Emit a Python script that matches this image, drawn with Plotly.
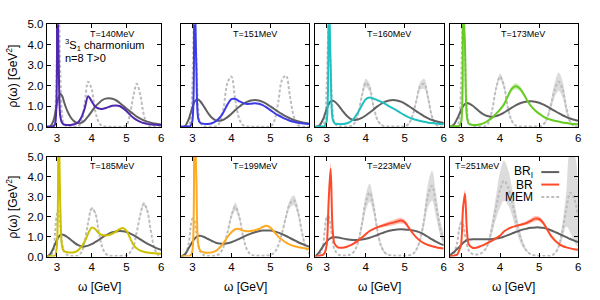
import plotly.graph_objects as go

# ---------------- data ----------------
W = [2.7, 2.8, 2.9, 2.95, 3.0, 3.05, 3.1, 3.15, 3.2, 3.3, 3.4, 3.5, 3.6, 3.7, 3.8, 3.9,
     4.0, 4.1, 4.2, 4.3, 4.4, 4.5, 4.6, 4.7, 4.8, 4.9, 5.0, 5.1, 5.2, 5.3, 5.4, 5.5,
     5.6, 5.7, 5.8, 5.9, 6.0]

T_LABELS = ["T=140MeV", "T=151MeV", "T=160MeV", "T=173MeV",
            "T=185MeV", "T=199MeV", "T=223MeV", "T=251MeV"]
BR_COLORS = ["#5028b0", "#3c3ce6", "#20c0c0", "#66cc22",
             "#ccc000", "#ffaa22", "#ff4a2a", "#ff4a2a"]
BR_BANDS = ["rgba(80,40,176,0.35)", "rgba(60,60,230,0.35)", "rgba(32,192,192,0.35)",
            "rgba(102,204,34,0.35)", "rgba(204,192,0,0.35)", "rgba(255,170,34,0.35)",
            "rgba(255,74,42,0.35)", "rgba(255,74,42,0.35)"]
X_TICKS = [3, 4, 5, 6]
Y_TICKS = [0, 1, 2, 3, 4, 5]
Y_TICK_TEXT = ["0.0", "1.0", "2.0", "3.0", "4.0", "5.0"]

# T = 140 MeV
br_140 = [0.02, 0.02, 0.03, 0.15, 8.0, 3.5, 0.5, 0.2, 0.12, 0.1, 0.1, 0.13, 0.2, 0.45, 0.9, 1.5,
          1.25, 1.0, 0.9, 0.88, 0.92, 0.98, 1.03, 1.05, 1.02, 0.92, 0.78, 0.6, 0.45, 0.33, 0.25, 0.19,
          0.15, 0.13, 0.11, 0.1, 0.09]
bri_140 = [0.0, 0.02, 0.3, 0.65, 1.1, 1.45, 1.6, 1.52, 1.25, 0.78, 0.46, 0.27, 0.19, 0.2, 0.32, 0.52,
           0.75, 0.98, 1.15, 1.3, 1.38, 1.4, 1.37, 1.3, 1.18, 1.04, 0.9, 0.76, 0.63, 0.5, 0.4, 0.32,
           0.26, 0.21, 0.17, 0.14, 0.12]
mem_140 = [0.0, 0.01, 0.1, 0.6, 3.5, 6.0, 2.5, 0.6, 0.15, 0.02, 0.01, 0.01, 0.02, 0.2, 1.15, 2.2,
           1.85, 0.8, 0.25, 0.05, 0.02, 0.01, 0.01, 0.01, 0.01, 0.02, 0.08, 0.6, 1.5, 2.1, 1.55, 0.6,
           0.12, 0.02, 0.01, 0.01, 0.0]

# T = 151 MeV
br_151 = [0.02, 0.02, 0.02, 0.05, 0.3, 7.0, 3.0, 0.4, 0.2, 0.15, 0.14, 0.18, 0.28, 0.45, 0.73, 1.1,
          1.35, 1.36, 1.25, 1.16, 1.12, 1.13, 1.15, 1.13, 1.06, 0.95, 0.82, 0.68, 0.57, 0.47, 0.38, 0.3,
          0.25, 0.21, 0.18, 0.16, 0.15]
bri_151 = [0.0, 0.02, 0.35, 0.65, 0.95, 1.2, 1.33, 1.33, 1.25, 0.98, 0.68, 0.45, 0.32, 0.3, 0.36, 0.48,
           0.64, 0.82, 0.98, 1.12, 1.22, 1.29, 1.31, 1.29, 1.22, 1.12, 1.0, 0.87, 0.74, 0.62, 0.51, 0.42,
           0.34, 0.28, 0.23, 0.19, 0.16]
mem_151 = [0.0, 0.01, 0.05, 0.3, 2.0, 6.0, 3.5, 0.8, 0.2, 0.03, 0.01, 0.01, 0.03, 0.2, 0.95, 2.15,
           2.45, 1.3, 0.4, 0.08, 0.02, 0.01, 0.01, 0.01, 0.01, 0.01, 0.02, 0.3, 1.2, 2.3, 2.5, 1.5,
           0.5, 0.1, 0.02, 0.01, 0.0]

# T = 160 MeV
br_160 = [0.02, 0.02, 0.02, 0.05, 0.3, 7.0, 3.0, 0.4, 0.18, 0.14, 0.14, 0.17, 0.25, 0.42, 0.7, 1.05,
          1.35, 1.44, 1.38, 1.3, 1.22, 1.12, 1.0, 0.9, 0.8, 0.68, 0.57, 0.47, 0.4, 0.34, 0.29, 0.25,
          0.21, 0.19, 0.17, 0.15, 0.14]
bri_160 = [0.0, 0.05, 0.35, 0.6, 0.88, 1.1, 1.25, 1.28, 1.24, 1.05, 0.8, 0.57, 0.41, 0.34, 0.36, 0.44,
           0.56, 0.7, 0.85, 1.0, 1.13, 1.23, 1.29, 1.31, 1.29, 1.23, 1.14, 1.02, 0.89, 0.76, 0.64, 0.52,
           0.42, 0.34, 0.28, 0.23, 0.19]
mem_160 = [0.0, 0.01, 0.05, 0.3, 2.0, 5.0, 3.0, 0.8, 0.2, 0.03, 0.01, 0.01, 0.03, 0.15, 0.6, 1.5,
           2.15, 1.9, 1.0, 0.35, 0.1, 0.03, 0.02, 0.02, 0.02, 0.02, 0.02, 0.15, 0.55, 1.3, 2.0, 2.1,
           1.4, 0.5, 0.12, 0.03, 0.01]
mem_err_160 = [0, 0, 0, 0, 0, 0, 0, 0, 0, 0, 0, 0, 0, 0.02, 0.05, 0.12,
               0.2, 0.2, 0.12, 0.05, 0.02, 0, 0, 0, 0, 0, 0, 0.02, 0.05, 0.12, 0.2, 0.25,
               0.2, 0.1, 0.03, 0, 0]

# T = 173 MeV
br_173 = [0.02, 0.02, 0.03, 0.05, 0.2, 6.0, 4.0, 0.5, 0.15, 0.1, 0.1, 0.13, 0.2, 0.32, 0.45, 0.65,
          0.85, 1.1, 1.5, 1.85, 1.98, 1.88, 1.62, 1.28, 1.0, 0.8, 0.65, 0.52, 0.42, 0.35, 0.3, 0.26,
          0.22, 0.19, 0.16, 0.14, 0.13]
br_err_173 = [0, 0, 0, 0, 0, 0, 0, 0, 0, 0, 0, 0, 0, 0, 0, 0,
              0.03, 0.05, 0.1, 0.13, 0.15, 0.13, 0.1, 0.06, 0.03, 0, 0, 0, 0, 0, 0, 0,
              0, 0, 0, 0, 0]
bri_173 = [0.0, 0.08, 0.4, 0.6, 0.82, 1.0, 1.12, 1.16, 1.14, 1.03, 0.87, 0.71, 0.59, 0.52, 0.5, 0.53,
           0.6, 0.7, 0.82, 0.94, 1.05, 1.14, 1.2, 1.24, 1.25, 1.23, 1.18, 1.1, 1.0, 0.89, 0.78, 0.67,
           0.57, 0.48, 0.41, 0.35, 0.3]
mem_173 = [0.0, 0.01, 0.05, 0.3, 2.0, 5.5, 3.5, 0.9, 0.25, 0.04, 0.02, 0.02, 0.03, 0.2, 0.85, 1.9,
           2.45, 2.0, 0.95, 0.3, 0.07, 0.02, 0.02, 0.02, 0.02, 0.02, 0.02, 0.1, 0.4, 1.05, 1.8, 2.2,
           1.85, 0.9, 0.25, 0.05, 0.01]
mem_err_173 = [0, 0, 0, 0, 0, 0, 0, 0, 0, 0, 0, 0, 0, 0, 0.05, 0.1,
               0.15, 0.15, 0.1, 0.05, 0, 0, 0, 0, 0, 0, 0, 0, 0.08, 0.2, 0.35, 0.45,
               0.4, 0.25, 0.1, 0.03, 0]

# T = 185 MeV
br_185 = [0.02, 0.02, 0.02, 0.05, 0.5, 7.0, 2.5, 0.5, 0.28, 0.22, 0.2, 0.22, 0.3, 0.48, 0.75, 1.15,
          1.45, 1.38, 1.18, 1.08, 1.06, 1.08, 1.15, 1.25, 1.37, 1.43, 1.3, 0.95, 0.6, 0.4, 0.3, 0.24,
          0.2, 0.18, 0.16, 0.15, 0.14]
bri_185 = [0.0, 0.1, 0.42, 0.62, 0.82, 0.98, 1.07, 1.1, 1.08, 0.98, 0.84, 0.7, 0.58, 0.52, 0.51, 0.55,
           0.62, 0.72, 0.83, 0.95, 1.06, 1.15, 1.22, 1.26, 1.28, 1.27, 1.23, 1.16, 1.07, 0.97, 0.86, 0.75,
           0.65, 0.56, 0.47, 0.4, 0.34]
mem_185 = [0.0, 0.02, 0.3, 1.2, 2.1, 2.3, 1.5, 0.7, 0.3, 0.08, 0.03, 0.03, 0.05, 0.2, 0.75, 1.7,
           2.4, 2.2, 1.3, 0.5, 0.15, 0.05, 0.03, 0.03, 0.03, 0.04, 0.06, 0.2, 0.5, 1.25, 2.1, 2.65,
           2.3, 1.3, 0.45, 0.1, 0.02]
mem_err_185 = [0, 0, 0, 0, 0, 0, 0, 0, 0, 0, 0, 0, 0, 0, 0, 0.05,
               0.08, 0.08, 0.05, 0, 0, 0, 0, 0, 0, 0, 0, 0, 0, 0, 0.08, 0.1,
               0.1, 0.05, 0, 0, 0]

# T = 199 MeV
br_199 = [0.02, 0.02, 0.02, 0.05, 0.3, 7.0, 4.0, 0.6, 0.3, 0.2, 0.19, 0.21, 0.28, 0.45, 0.68, 0.98,
          1.22, 1.37, 1.38, 1.3, 1.27, 1.28, 1.32, 1.38, 1.48, 1.54, 1.45, 1.23, 1.0, 0.84, 0.7, 0.6,
          0.53, 0.48, 0.44, 0.4, 0.37]
bri_199 = [0.0, 0.1, 0.4, 0.57, 0.74, 0.88, 0.98, 1.03, 1.04, 0.98, 0.88, 0.78, 0.69, 0.65, 0.64, 0.67,
           0.72, 0.8, 0.89, 0.98, 1.07, 1.15, 1.22, 1.27, 1.3, 1.31, 1.3, 1.26, 1.2, 1.12, 1.03, 0.93,
           0.83, 0.73, 0.64, 0.56, 0.49]
mem_199 = [0.0, 0.05, 0.6, 1.4, 1.9, 1.8, 1.2, 0.6, 0.25, 0.06, 0.03, 0.03, 0.05, 0.15, 0.5, 1.2,
           2.05, 2.5, 2.0, 1.0, 0.35, 0.1, 0.05, 0.04, 0.04, 0.05, 0.08, 0.2, 0.55, 1.2, 2.0, 2.65,
           2.82, 2.3, 1.3, 0.5, 0.15]
mem_err_199 = [0, 0, 0, 0, 0, 0, 0, 0, 0, 0, 0, 0, 0, 0, 0, 0.08,
               0.15, 0.2, 0.15, 0.08, 0, 0, 0, 0, 0, 0, 0, 0, 0, 0.08, 0.15, 0.2,
               0.25, 0.2, 0.12, 0.05, 0]

# T = 223 MeV
br_223 = [0.02, 0.03, 0.08, 0.2, 0.6, 2.8, 4.4, 1.4, 0.65, 0.45, 0.44, 0.48, 0.56, 0.66, 0.8, 0.95,
          1.12, 1.28, 1.38, 1.47, 1.53, 1.59, 1.65, 1.7, 1.76, 1.8, 1.72, 1.45, 1.18, 0.95, 0.78, 0.66,
          0.58, 0.52, 0.47, 0.43, 0.4]
br_err_223 = [0, 0, 0, 0, 0, 0.2, 0.3, 0.15, 0, 0, 0, 0, 0, 0, 0, 0,
              0, 0, 0, 0.05, 0.08, 0.1, 0.12, 0.13, 0.14, 0.14, 0.12, 0.08, 0.04, 0, 0, 0,
              0, 0, 0, 0, 0]
bri_223 = [0.0, 0.2, 0.5, 0.63, 0.75, 0.85, 0.92, 0.96, 0.97, 0.95, 0.91, 0.87, 0.84, 0.83, 0.83, 0.85,
           0.89, 0.94, 1.01, 1.08, 1.16, 1.23, 1.29, 1.33, 1.36, 1.37, 1.36, 1.34, 1.31, 1.27, 1.2, 1.1,
           0.98, 0.86, 0.75, 0.65, 0.57]
mem_223 = [0.0, 0.05, 0.5, 1.3, 1.95, 2.0, 1.5, 0.8, 0.35, 0.1, 0.06, 0.06, 0.1, 0.25, 0.7, 1.6,
           2.7, 3.2, 2.5, 1.3, 0.5, 0.18, 0.08, 0.05, 0.04, 0.04, 0.04, 0.06, 0.12, 0.35, 0.9, 1.9,
           3.1, 3.55, 2.6, 1.5, 0.8]
mem_err_223 = [0, 0, 0, 0.1, 0.12, 0.12, 0.1, 0, 0, 0, 0, 0, 0, 0, 0.1, 0.25,
               0.4, 0.45, 0.35, 0.2, 0.1, 0.05, 0, 0, 0, 0, 0, 0, 0, 0.05, 0.15, 0.35,
               0.6, 0.75, 0.6, 0.4, 0.25]

# T = 251 MeV
br_251 = [0.02, 0.03, 0.1, 0.3, 0.6, 2.4, 3.15, 1.3, 0.6, 0.43, 0.45, 0.52, 0.6, 0.7, 0.8, 0.92,
          1.05, 1.25, 1.38, 1.47, 1.53, 1.58, 1.63, 1.7, 1.8, 1.9, 1.88, 1.7, 1.38, 1.05, 0.82, 0.65,
          0.53, 0.46, 0.41, 0.37, 0.34]
br_err_251 = [0, 0, 0, 0, 0, 0.15, 0.2, 0.1, 0, 0, 0, 0, 0, 0, 0, 0,
              0, 0, 0, 0, 0, 0.05, 0.08, 0.1, 0.12, 0.13, 0.12, 0.1, 0.06, 0.03, 0, 0,
              0, 0, 0, 0, 0]
bri_251 = [0.03, 0.2, 0.38, 0.47, 0.58, 0.68, 0.76, 0.82, 0.85, 0.87, 0.87, 0.87, 0.87, 0.87, 0.88, 0.9,
           0.94, 1.0, 1.07, 1.15, 1.23, 1.3, 1.36, 1.41, 1.44, 1.46, 1.46, 1.44, 1.39, 1.32, 1.24, 1.15,
           1.06, 0.97, 0.88, 0.8, 0.72]
mem_251 = [0.0, 0.1, 0.7, 1.35, 1.7, 1.6, 1.1, 0.6, 0.3, 0.12, 0.1, 0.15, 0.3, 0.7, 1.5, 2.5,
           3.35, 3.8, 3.5, 2.8, 1.9, 1.1, 0.55, 0.25, 0.1, 0.05, 0.03, 0.03, 0.03, 0.05, 0.15, 0.5,
           1.3, 2.4, 3.2, 2.9, 2.0]
mem_err_251 = [0, 0, 0, 0.1, 0.1, 0.1, 0.1, 0, 0, 0, 0, 0, 0, 0.15, 0.35, 0.6,
               0.9, 1.0, 0.9, 0.7, 0.5, 0.3, 0.15, 0.05, 0, 0, 0, 0, 0, 0, 0, 0.1,
               0.4, 0.9, 2.0, 2.2, 1.5]

ZEROS = [0] * len(W)
PANELS = [
    (br_140, ZEROS, bri_140, mem_140, ZEROS),
    (br_151, ZEROS, bri_151, mem_151, ZEROS),
    (br_160, ZEROS, bri_160, mem_160, mem_err_160),
    (br_173, br_err_173, bri_173, mem_173, mem_err_173),
    (br_185, ZEROS, bri_185, mem_185, mem_err_185),
    (br_199, ZEROS, bri_199, mem_199, mem_err_199),
    (br_223, br_err_223, bri_223, mem_223, mem_err_223),
    (br_251, br_err_251, bri_251, mem_251, mem_err_251),
]

# ---------------- layout geometry (pixels of the 600x300 canvas) ----------------
WIDTH, HEIGHT = 600, 300
COLS_PX = [(47, 162), (182, 311), (317, 446), (452, 581)]
ROWS_PX = [(19, 126), (157, 261)]
FONT = "Liberation Sans, Arial, sans-serif"
BRI_COLOR = "#606060"
MEM_COLOR = "#bdbdbd"
MEM_BAND = "#dcdcdc"


def px_x(p):
    return p / WIDTH


def px_y(p):
    return 1 - p / HEIGHT


fig = go.Figure()
layout_axes = {}
annotations = []
shapes = []

for i, (br, br_err, bri, mem, mem_err) in enumerate(PANELS):
    r, c = divmod(i, 4)
    sfx = "" if i == 0 else str(i + 1)
    xa, ya = "x" + sfx, "y" + sfx

    if any(e > 0 for e in mem_err):
        up = [m + e for m, e in zip(mem, mem_err)]
        lo = [max(m - e, 0) for m, e in zip(mem, mem_err)]
        fig.add_trace(go.Scatter(x=W + W[::-1], y=up + lo[::-1], fill="toself",
                                 fillcolor=MEM_BAND, line=dict(width=0, shape="spline"),
                                 mode="lines", hoverinfo="skip", showlegend=False,
                                 xaxis=xa, yaxis=ya))
    fig.add_trace(go.Scatter(x=W, y=mem, mode="lines",
                             line=dict(color=MEM_COLOR, width=2, dash="3px,2px",
                                       shape="spline", smoothing=1.0),
                             showlegend=False, xaxis=xa, yaxis=ya))
    if any(e > 0 for e in br_err):
        up = [m + e for m, e in zip(br, br_err)]
        lo = [max(m - e, 0) for m, e in zip(br, br_err)]
        fig.add_trace(go.Scatter(x=W + W[::-1], y=up + lo[::-1], fill="toself",
                                 fillcolor=BR_BANDS[i], line=dict(width=0, shape="spline"),
                                 mode="lines", hoverinfo="skip", showlegend=False,
                                 xaxis=xa, yaxis=ya))
    fig.add_trace(go.Scatter(x=W, y=bri, mode="lines",
                             line=dict(color=BRI_COLOR, width=2, shape="spline", smoothing=1.0),
                             showlegend=False, xaxis=xa, yaxis=ya))
    fig.add_trace(go.Scatter(x=W, y=br, mode="lines",
                             line=dict(color=BR_COLORS[i], width=2, shape="spline", smoothing=0.9),
                             showlegend=False, xaxis=xa, yaxis=ya))

    x0, x1 = COLS_PX[c]
    y0, y1 = ROWS_PX[r]
    layout_axes["xaxis" + sfx] = dict(
        domain=[px_x(x0), px_x(x1)], anchor=ya, range=[2.71, 6.0],
        tickvals=X_TICKS, ticks="inside", ticklen=4, tickcolor="black",
        showline=True, linecolor="black", linewidth=1, mirror="ticks",
        showgrid=False, zeroline=False,
        tickfont=dict(family=FONT, size=11.5, color="black"))
    layout_axes["yaxis" + sfx] = dict(
        domain=[px_y(y1), px_y(y0)], anchor=xa, range=[0, 5],
        tickvals=Y_TICKS, ticktext=Y_TICK_TEXT, ticks="inside", ticklen=4, tickcolor="black",
        showline=True, linecolor="black", linewidth=1, mirror="ticks",
        showgrid=False, zeroline=False, showticklabels=(c == 0),
        tickfont=dict(family=FONT, size=11.5, color="black"))

    ty = 29.5 if r == 0 else 166.5
    tx = 3.42 if i == 7 else 4.6
    annotations.append(dict(text=T_LABELS[i], x=tx, xref=xa, y=px_y(ty), yref="paper",
                            xanchor="center", yanchor="middle", showarrow=False,
                            font=dict(family=FONT, size=9, color="black")))

annotations.append(dict(text="<sup>3</sup>S<sub>1</sub> charmonium", x=px_x(63), y=px_y(41),
                        xref="paper", yref="paper", xanchor="left", yanchor="middle",
                        showarrow=False, font=dict(family=FONT, size=11, color="black")))
annotations.append(dict(text="n=8 T&gt;0", x=px_x(63), y=px_y(54),
                        xref="paper", yref="paper", xanchor="left", yanchor="middle",
                        showarrow=False, font=dict(family=FONT, size=11, color="black")))

for yc in [(19 + 126) / 2, (157 + 261) / 2]:
    annotations.append(dict(text="ρ(ω) [GeV<sup>2</sup>]", x=px_x(12), y=px_y(yc),
                            xref="paper", yref="paper", xanchor="center", yanchor="middle",
                            textangle=-90, showarrow=False,
                            font=dict(family=FONT, size=12, color="black")))
for xc in [100, 246.5, 381.5, 516.5]:
    annotations.append(dict(text="ω [GeV]", x=px_x(xc), y=px_y(292.5),
                            xref="paper", yref="paper", xanchor="center", yanchor="middle",
                            showarrow=False, font=dict(family=FONT, size=12, color="black")))

LEGEND = [("BR<sub>I</sub>", BRI_COLOR, "solid", 173), ("BR", BR_COLORS[7], "solid", 186),
          ("MEM", MEM_COLOR, "3px,2px", 199)]
for label, col, dash, yy in LEGEND:
    annotations.append(dict(text=label, x=px_x(538), y=px_y(yy), xref="paper", yref="paper",
                            xanchor="right", yanchor="middle", showarrow=False,
                            font=dict(family=FONT, size=12, color="black")))
    shapes.append(dict(type="line", xref="paper", yref="paper", x0=px_x(544), x1=px_x(562),
                       y0=px_y(yy), y1=px_y(yy), line=dict(color=col, width=2, dash=dash)))

fig.update_layout(width=WIDTH, height=HEIGHT, margin=dict(l=0, r=0, t=0, b=0),
                  paper_bgcolor="white", plot_bgcolor="white", showlegend=False,
                  annotations=annotations, shapes=shapes, **layout_axes)

fig.write_html("out.html", config={"displayModeBar": False},
               post_script="document.body.style.margin='0';document.body.style.overflow='hidden';")
